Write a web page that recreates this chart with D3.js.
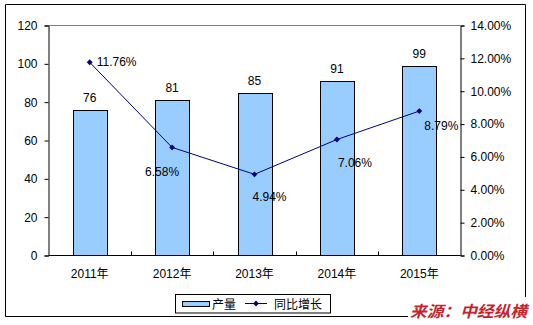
<!DOCTYPE html>
<html>
<head>
<meta charset="utf-8">
<script src="https://cdn.jsdelivr.net/npm/d3@7/dist/d3.min.js"></script>
<style>
  html, body { margin: 0; padding: 0; background: #fff; }
  svg { display: block; }
  text { font-family: "Liberation Sans", Arial, "Noto Sans CJK SC", sans-serif; }
</style>
</head>
<body>
<svg id="chart" width="533" height="325"></svg>
<script>
// Annual output (bars) and year-on-year growth (line)
const years = ["2011年", "2012年", "2013年", "2014年", "2015年"];
const output = [76, 81, 85, 91, 99];
const growth = [0.1176, 0.0658, 0.0494, 0.0706, 0.0879];
const leftTicks = [0, 20, 40, 60, 80, 100, 120];
const rightTicks = [0, 0.02, 0.04, 0.06, 0.08, 0.10, 0.12, 0.14];
const legendNames = ["产量", "同比增长"];
const sourceText = "来源：中经纵横";

// label offsets for the growth labels, relative to each point [dx, dy, anchor]
const growthLabelPos = [[7, 4, "start"], [-10, 29, "middle"], [15, 27, "middle"], [18, 27, "middle"], [22, 19, "middle"]];

const svg = d3.select("#chart");
const plot = { left: 48.5, right: 460.5, top: 25.5, bottom: 255.5 };

const x = d3.scaleBand().domain(years)
  .range([plot.left, plot.right])
  .paddingInner(0.59).paddingOuter(0.295);
const yL = d3.scaleLinear().domain([0, 120]).range([plot.bottom, plot.top]);
const yR = d3.scaleLinear().domain([0, 0.14]).range([plot.bottom, plot.top]);
const cx = d => x(d) + x.bandwidth() / 2;

// chart frame (bottom-right corner left open for the source note)
svg.append("path")
  .attr("d", "M408,316.5 H5.5 V4.5 H525.5 V297")
  .attr("fill", "none").attr("stroke", "#000").attr("stroke-width", 1);

// top edge of the plot area
svg.append("line")
  .attr("x1", plot.left).attr("x2", plot.right)
  .attr("y1", plot.top).attr("y2", plot.top)
  .attr("stroke", "#808080");

// bars
svg.append("g").selectAll("rect").data(output).join("rect")
  .attr("x", (d, i) => Math.round(x(years[i])) + 0.5)
  .attr("y", d => Math.round(yL(d)) + 0.5)
  .attr("width", Math.round(x.bandwidth()))
  .attr("height", d => plot.bottom - Math.round(yL(d)) - 0.5)
  .attr("fill", "#99CCFF").attr("stroke", "#000").attr("stroke-width", 1);

// bar value labels
svg.append("g").selectAll("text").data(output).join("text")
  .attr("x", (d, i) => cx(years[i]))
  .attr("y", d => yL(d) - 8)
  .attr("text-anchor", "middle")
  .attr("font-size", 12).attr("fill", "#000")
  .text(d => d);

// left axis
const gL = svg.append("g").attr("transform", `translate(${plot.left},0)`)
  .call(d3.axisLeft(yL).tickValues(leftTicks).tickSize(4).tickPadding(7));
// right axis
const gR = svg.append("g").attr("transform", `translate(${plot.right},0)`)
  .call(d3.axisRight(yR).tickValues(rightTicks).tickSize(4).tickPadding(6)
    .tickFormat(d3.format(".2%")));
[gL, gR].forEach(g => {
  g.select(".domain").attr("stroke", "#000");
  g.selectAll(".tick line").attr("stroke", "#000");
  g.selectAll(".tick text").attr("font-size", 12).attr("fill", "#000")
    .attr("font-family", "'Liberation Sans', Arial, sans-serif");
});

// category axis: baseline, inward ticks between categories, year labels
svg.append("line")
  .attr("x1", plot.left).attr("x2", plot.right)
  .attr("y1", plot.bottom).attr("y2", plot.bottom)
  .attr("stroke", "#000");
const bounds = d3.range(1, years.length).map(i => plot.left + i * x.step());
svg.append("g").selectAll("line").data(bounds).join("line")
  .attr("x1", d => Math.round(d) + 0.5).attr("x2", d => Math.round(d) + 0.5)
  .attr("y1", plot.bottom).attr("y2", plot.bottom - 4)
  .attr("stroke", "#000");
svg.append("g").selectAll("text").data(years).join("text")
  .attr("x", d => cx(d))
  .attr("y", 278)
  .attr("text-anchor", "middle")
  .attr("font-size", 12).attr("fill", "#000")
  .text(d => d);

// growth line
const lineColor = "#000080";
const line = d3.line().x((d, i) => cx(years[i])).y(d => yR(d));
svg.append("path").datum(growth)
  .attr("d", line).attr("fill", "none")
  .attr("stroke", lineColor).attr("stroke-width", 1);
const diamond = d3.symbol().type(d3.symbolDiamond2).size(22);
svg.append("g").selectAll("path").data(growth).join("path")
  .attr("transform", (d, i) => `translate(${cx(years[i])},${yR(d)})`)
  .attr("d", diamond).attr("fill", lineColor);

// growth labels
svg.append("g").selectAll("text").data(growth).join("text")
  .attr("x", (d, i) => cx(years[i]) + growthLabelPos[i][0])
  .attr("y", (d, i) => yR(d) + growthLabelPos[i][1])
  .attr("text-anchor", (d, i) => growthLabelPos[i][2])
  .attr("font-size", 12).attr("fill", "#000")
  .text(d => d3.format(".2%")(d));

// legend
const lg = svg.append("g");
lg.append("rect").attr("x", 175.5).attr("y", 294.5).attr("width", 155).attr("height", 18.5)
  .attr("fill", "#fff").attr("stroke", "#000");
lg.append("rect").attr("x", 182.5).attr("y", 301.5).attr("width", 27).attr("height", 5)
  .attr("fill", "#99CCFF").attr("stroke", "#000");
lg.append("text").attr("x", 212).attr("y", 308.5).attr("font-size", 12).attr("fill", "#000")
  .attr("font-family", "'Noto Sans CJK SC', sans-serif").text(legendNames[0]);
lg.append("line").attr("x1", 245).attr("x2", 267).attr("y1", 303.5).attr("y2", 303.5)
  .attr("stroke", lineColor);
lg.append("path").attr("transform", "translate(256,303.5)").attr("d", diamond).attr("fill", lineColor);
lg.append("text").attr("x", 274).attr("y", 308.5).attr("font-size", 12).attr("fill", "#000")
  .attr("font-family", "'Noto Sans CJK SC', sans-serif").text(legendNames[1]);

// source note
svg.append("text")
  .attr("x", 410).attr("y", 317)
  .attr("font-size", 15.5).attr("font-weight", "bold").attr("font-style", "italic")
  .attr("font-family", "'Noto Sans CJK SC', sans-serif")
  .attr("fill", "#C8232C")
  .attr("textLength", 117).attr("lengthAdjust", "spacingAndGlyphs")
  .text(sourceText);
</script>
</body>
</html>
